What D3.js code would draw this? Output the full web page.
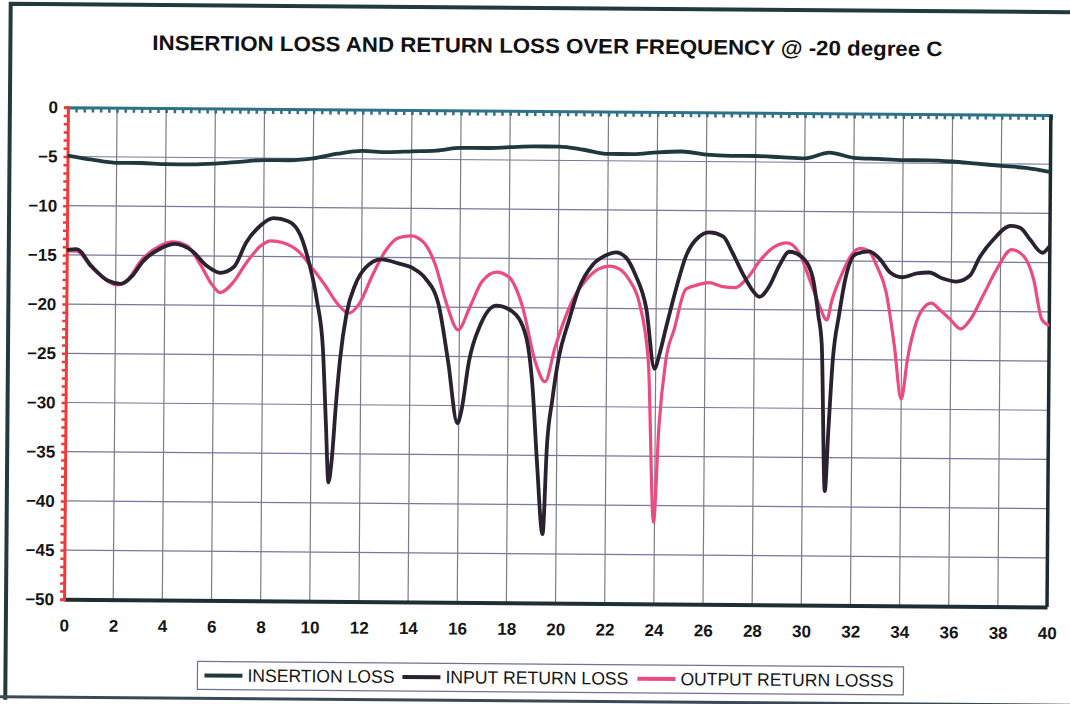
<!DOCTYPE html>
<html>
<head>
<meta charset="utf-8">
<script src="https://cdn.jsdelivr.net/npm/d3@7"></script>
<style>
  body { margin: 0; background: #ffffff; }
  #chart { display: block; }
  text { font-family: "Liberation Sans", Arial, sans-serif; }
</style>
</head>
<body>
<svg id="chart" width="1070" height="704"></svg>
<script>
// ---- data ----
var chartTitle = "INSERTION LOSS AND RETURN LOSS OVER FREQUENCY @ -20 degree C";
var seriesNames = ["INSERTION LOSS", "INPUT RETURN LOSS", "OUTPUT RETURN LOSSS"];
var xTicks = [0, 2, 4, 6, 8, 10, 12, 14, 16, 18, 20, 22, 24, 26, 28, 30, 32, 34, 36, 38, 40];
var yTicks = [0, -5, -10, -15, -20, -25, -30, -35, -40, -45, -50];

var ilFreq = [0, 1, 2, 3, 4, 5, 6, 7, 8, 9, 10, 11, 12, 13, 14, 15, 16, 17, 18, 19, 20,
  21, 22, 23, 24, 25, 26, 27, 28, 29, 30, 31, 32, 33, 34, 35, 36, 37, 38, 39, 40];
var ilValues = [-4.9, -5.3, -5.6, -5.6, -5.7, -5.7, -5.6, -5.4, -5.2, -5.2, -5.0,
  -4.5, -4.2, -4.3, -4.2, -4.1, -3.8, -3.8, -3.7, -3.6, -3.6,
  -3.9, -4.3, -4.3, -4.1, -4.0, -4.3, -4.4, -4.4, -4.5, -4.6,
  -4.0, -4.5, -4.6, -4.7, -4.7, -4.8, -5.0, -5.2, -5.4, -5.8];

var irlFreq = [0, 0.4, 1.0, 1.7, 2.2, 2.7, 3.1, 3.8, 4.4, 5.1, 5.7, 6.25, 6.8, 7.3, 7.9,
  8.4, 9.0, 9.5, 9.85, 10.2, 10.45, 10.6, 10.72, 10.85, 11.0, 11.15, 11.4, 11.75, 12.15,
  12.8, 13.5, 14.1, 14.6, 15.15, 15.55, 15.95, 16.1, 16.4, 16.85, 17.5, 18.15, 18.7,
  19.0, 19.2, 19.45, 19.6, 19.8, 20.05, 20.45, 20.85, 21.4, 21.95, 22.35, 22.75, 23.15,
  23.6, 23.95, 24.15, 24.4, 24.8, 25.2, 25.7, 26.15, 26.7, 27.1, 27.5, 27.9, 28.2, 28.6,
  29.0, 29.4, 29.9, 30.35, 30.6, 30.75, 30.92, 31.05, 31.2, 31.45, 31.7, 32.1, 32.65,
  33.1, 33.5, 34.0, 34.6, 35.1, 35.65, 36.2, 36.75, 37.15, 37.7, 38.4, 38.8, 39.2, 39.7, 40.0];
var irlValues = [-14.5, -14.4, -16.1, -17.6, -17.9, -17.0, -15.6, -14.3, -13.8, -14.5,
  -16.0, -16.7, -16.1, -13.6, -11.8, -11.1, -11.4, -12.8, -15.5, -19.5, -24.2, -32.0,
  -37.9, -35.5, -30.0, -25.5, -20.8, -17.8, -16.1, -15.2, -15.6, -16.1, -17.1, -19.8,
  -25.5, -31.8, -30.6, -25.5, -21.8, -19.8, -20.4, -22.8, -28.2, -35.7, -43.0, -34.0,
  -29.4, -25.1, -21.3, -18.0, -15.6, -14.6, -14.3, -14.8, -16.6, -20.0, -26.1, -24.6,
  -22.0, -18.0, -14.6, -12.7, -12.2, -12.6, -14.3, -16.3, -18.0, -18.7, -17.6, -15.5,
  -14.1, -14.6, -16.6, -20.5, -23.5, -38.4, -32.0, -25.2, -20.4, -16.7, -14.3, -14.0,
  -14.8, -16.1, -16.6, -16.2, -16.1, -16.7, -17.0, -16.4, -14.5, -12.7, -11.3, -11.5,
  -12.7, -14.0, -13.3];

var orlFreq = [0, 0.4, 1.0, 1.6, 2.05, 2.4, 3.1, 3.8, 4.3, 4.9, 5.4, 5.95, 6.25, 6.8, 7.3,
  7.9, 8.3, 8.8, 9.45, 9.95, 10.5, 11.05, 11.5, 11.9, 12.45, 12.95, 13.5, 14.0, 14.5,
  15.0, 15.45, 15.95, 16.4, 16.9, 17.5, 18.0, 18.55, 19.1, 19.5, 19.9, 20.3, 20.7, 21.15,
  21.65, 22.1, 22.5, 22.9, 23.3, 23.7, 23.96, 24.15, 24.4, 24.75, 25.2, 25.6, 26.15, 26.7,
  27.2, 27.7, 28.25, 28.8, 29.3, 29.8, 30.25, 30.6, 30.95, 31.15, 31.55, 31.95, 32.3,
  32.65, 32.95, 33.35, 33.7, 34.0, 34.25, 34.6, 34.85, 35.2, 35.55, 35.95, 36.4, 36.8,
  37.3, 37.85, 38.45, 38.95, 39.35, 39.7, 40.0];
var orlValues = [-14.6, -14.6, -16.2, -17.5, -18.0, -17.7, -15.3, -14.0, -13.6, -14.0,
  -15.7, -18.0, -18.7, -17.6, -15.7, -13.9, -13.4, -13.6, -14.5, -16.0, -17.8, -19.8,
  -20.7, -19.8, -16.8, -14.4, -13.0, -12.8, -13.4, -15.7, -19.5, -22.3, -20.1, -17.4,
  -16.4, -16.9, -19.8, -25.5, -27.5, -24.0, -21.0, -18.7, -17.1, -16.0, -15.7, -16.0,
  -17.1, -19.3, -25.4, -41.7, -32.0, -25.4, -22.0, -18.0, -17.6, -17.3, -17.7, -17.8,
  -16.8, -14.9, -13.6, -13.2, -14.2, -17.0, -19.3, -21.0, -19.0, -16.3, -14.3, -13.7,
  -14.0, -15.4, -18.1, -23.5, -29.0, -24.8, -21.1, -19.8, -19.2, -19.9, -20.8, -21.8,
  -20.8, -18.4, -15.7, -13.7, -14.4, -16.7, -20.8, -21.4];

var seriesColors = ["#1f3a3e", "#2a2131", "#ec4b80"];

// ---- layout ----
var plot = { left: 66, right: 1049, top: 111, bottom: 603 };

var svg = d3.select("#chart");
// the scan is tilted slightly clockwise
var root = svg.append("g").attr("transform", "rotate(0.45,535,352)");

var x = d3.scaleLinear().domain([0, 40]).range([plot.left, plot.right]);
var y = d3.scaleLinear().domain([-50, 0]).range([plot.bottom, plot.top]);

// outer frame of the chart area
root.append("path")
  .attr("d", "M8,704 L8,8 L1080,8")
  .attr("fill", "none")
  .attr("stroke", "#22393d")
  .attr("stroke-width", 4);
root.append("line")
  .attr("x1", 0).attr("x2", 1080)
  .attr("y1", 701).attr("y2", 701)
  .attr("stroke", "#3a4a55")
  .attr("stroke-width", 3);

// title
root.append("text")
  .attr("x", 545)
  .attr("y", 53)
  .attr("text-anchor", "middle")
  .attr("textLength", 790)
  .attr("lengthAdjust", "spacingAndGlyphs")
  .style("font-size", "21px")
  .style("font-weight", "bold")
  .style("fill", "#111")
  .text(chartTitle);

// gridlines
root.append("g")
  .selectAll("line")
  .data(xTicks.filter(function (d) { return d > 0 && d < 40; }))
  .enter()
  .append("line")
  .attr("x1", function (d) { return x(d); })
  .attr("x2", function (d) { return x(d); })
  .attr("y1", plot.top)
  .attr("y2", plot.bottom)
  .attr("stroke", "#7d7b86")
  .attr("stroke-width", 1.2);

root.append("g")
  .selectAll("line")
  .data(yTicks.filter(function (d) { return d < 0 && d > -50; }))
  .enter()
  .append("line")
  .attr("x1", plot.left)
  .attr("x2", plot.right)
  .attr("y1", function (d) { return y(d); })
  .attr("y2", function (d) { return y(d); })
  .attr("stroke", "#77779a")
  .attr("stroke-width", 1.2);

// top border with small ticks
root.append("g")
  .attr("transform", "translate(0," + plot.top + ")")
  .call(d3.axisBottom(x).tickValues(d3.range(0, 40.01, 1 / 3)).tickSize(5).tickFormat(""))
  .call(function (g) {
    g.select(".domain").attr("stroke", "#2f7186").attr("stroke-width", 3);
    g.selectAll(".tick line").attr("stroke", "#2f7186").attr("stroke-width", 2.5);
  });

// right border
root.append("line")
  .attr("x1", plot.right).attr("x2", plot.right)
  .attr("y1", plot.top).attr("y2", plot.bottom)
  .attr("stroke", "#1d2a2e")
  .attr("stroke-width", 3.5);

// x axis
root.append("g")
  .attr("transform", "translate(0," + plot.bottom + ")")
  .call(d3.axisBottom(x).tickValues(xTicks).tickSize(0).tickPadding(20))
  .call(function (g) {
    g.select(".domain").attr("stroke", "#1d2f33").attr("stroke-width", 4);
    g.selectAll("text")
      .style("font-size", "17px")
      .style("font-weight", "bold")
      .style("fill", "#151515")
      .style("font-family", "'Liberation Sans', Arial, sans-serif");
  });

// y axis (red, with dense little ticks)
root.append("g")
  .attr("transform", "translate(" + plot.left + ",0)")
  .call(d3.axisLeft(y).tickValues(d3.range(-50, 0.01, 5 / 6)).tickSize(4).tickFormat(""))
  .call(function (g) {
    g.select(".domain").attr("stroke", "#f03a3a").attr("stroke-width", 3);
    g.selectAll(".tick line").attr("stroke", "#f03a3a").attr("stroke-width", 2.5);
  });
root.append("g")
  .attr("transform", "translate(" + (plot.left - 10) + ",0)")
  .call(d3.axisLeft(y).tickValues(yTicks).tickSize(0).tickPadding(0))
  .call(function (g) {
    g.select(".domain").remove();
    g.selectAll("text")
      .style("font-size", "17px")
      .style("font-weight", "bold")
      .style("fill", "#151515")
      .style("font-family", "'Liberation Sans', Arial, sans-serif");
  });

// series
var line = d3.line()
  .x(function (d) { return x(d[0]); })
  .y(function (d) { return y(d[1]); })
  .curve(d3.curveMonotoneX);

function pairs(f, v) {
  return f.map(function (d, i) { return [d, v[i]]; });
}

var seriesData = [pairs(ilFreq, ilValues), pairs(irlFreq, irlValues), pairs(orlFreq, orlValues)];
var widths = [3.8, 3.8, 3.2];

// draw pink first so the dark curves sit over it like in the print
[2, 1, 0].forEach(function (k) {
  root.append("path")
    .attr("d", line(seriesData[k]))
    .attr("fill", "none")
    .attr("stroke", seriesColors[k])
    .attr("stroke-width", widths[k])
    .attr("stroke-linejoin", "round");
});

// legend
var legend = root.append("g").attr("transform", "translate(200,664)");
legend.append("rect")
  .attr("width", 706)
  .attr("height", 28)
  .attr("fill", "#fff")
  .attr("stroke", "#6d7391")
  .attr("stroke-width", 1.2);

var legendX = [7, 205, 440];
var legendW = [147, 183, 213];
seriesNames.forEach(function (name, i) {
  legend.append("line")
    .attr("x1", legendX[i]).attr("x2", legendX[i] + 38)
    .attr("y1", 14).attr("y2", 14)
    .attr("stroke", seriesColors[i])
    .attr("stroke-width", 4);
  legend.append("text")
    .attr("x", legendX[i] + 43)
    .attr("y", 20)
    .attr("textLength", legendW[i])
    .attr("lengthAdjust", "spacingAndGlyphs")
    .style("font-size", "18px")
    .style("fill", "#151515")
    .text(name);
});
</script>
</body>
</html>
